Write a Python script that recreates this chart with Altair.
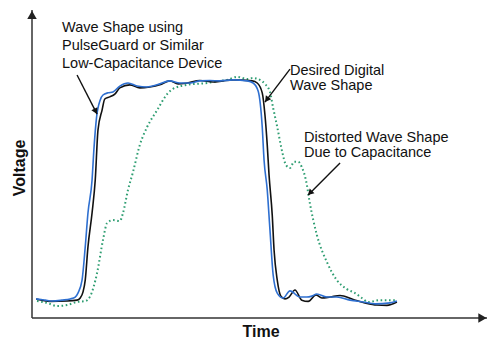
import altair as alt
import pandas as pd

# ---- data (time 0-100, voltage 0-100, arbitrary units) ----
blue_t = [0.9, 2.9, 4.4, 6.6, 8.4, 9.5, 10.1, 11.0, 11.7, 12.3, 13.2, 13.6, 14.2, 15.0, 15.6, 16.7, 17.8,
          19.3, 21.1, 23.1, 25.3, 27.5, 30.3, 32.5, 34.7, 36.9, 39.1, 41.3, 44.2, 47.3, 48.6, 49.7, 50.6,
          51.0, 51.7, 52.3, 53.0, 53.9, 55.2, 56.7, 58.9, 60.4, 61.5, 62.6, 64.8, 67.0, 69.9, 72.8, 75.4,
          78.7, 80.2]
blue_v = [6.2, 5.8, 5.5, 5.8, 6.2, 6.8, 8.1, 12.3, 23.1, 34.1, 44.8, 54.6, 65.3, 70.8, 72.4, 73.1, 73.4,
          75.3, 76.3, 75.3, 75.0, 75.7, 77.0, 76.3, 76.3, 77.0, 77.1, 77.0, 77.3, 77.0, 76.3, 73.7, 62.0,
          51.3, 41.6, 28.6, 14.0, 8.1, 6.5, 8.8, 6.8, 6.8, 7.1, 7.8, 6.8, 6.8, 5.8, 5.2, 4.6,
          4.9, 5.5]

black_t = [0.9, 4.0, 7.7, 9.9, 10.6, 11.2, 11.7, 12.3, 13.2, 13.9, 14.5, 15.4, 16.0, 17.1, 18.2, 19.3,
           21.5, 23.7, 25.9, 28.1, 30.3, 32.1, 34.1, 36.9, 39.8, 42.0, 44.2, 48.4, 49.5, 50.6, 51.2, 51.7,
           52.1, 52.8, 53.2, 53.9, 54.7, 55.6, 56.5, 57.8, 59.3, 60.7, 62.4, 63.7, 65.5, 67.7, 70.6, 73.2,
           75.8, 78.0, 80.2]
black_v = [6.2, 5.4, 5.5, 5.8, 6.5, 8.4, 12.3, 23.1, 34.1, 44.8, 61.0, 67.5, 71.1, 71.8, 72.7, 74.7,
           75.7, 74.7, 75.0, 75.7, 77.0, 76.0, 76.3, 77.1, 76.6, 77.0, 77.3, 77.0, 76.3, 73.1, 65.9, 56.2,
           46.4, 33.4, 22.1, 12.3, 7.1, 6.2, 6.8, 9.1, 5.8, 5.4, 7.5, 6.5, 6.8, 7.3, 6.0, 4.9,
           4.2, 4.1, 5.2]

green_t = [1.1, 3.3, 5.5, 7.7, 9.9, 11.7, 12.8, 14.3, 15.6, 16.5, 17.8, 19.3, 20.0, 21.1, 22.2, 23.7,
           25.3, 27.5, 29.7, 31.0, 34.1, 38.5, 41.3, 42.9, 45.1, 47.3, 48.6, 50.1, 51.2, 52.3, 53.0, 53.9,
           55.0, 55.8, 56.7, 57.6, 58.5, 59.3, 60.2, 61.1, 62.6, 64.8, 67.0, 69.2, 71.0, 72.5, 73.9, 76.5,
           79.3, 80.2]
green_v = [5.5, 4.9, 3.9, 4.2, 5.2, 5.5, 7.1, 14.6, 25.3, 30.8, 31.8, 31.5, 34.1, 41.6, 47.4, 56.2,
           62.0, 67.5, 72.7, 74.4, 75.7, 76.3, 77.0, 77.3, 78.3, 77.6, 77.9, 77.3, 76.0, 73.4, 68.2, 62.0,
           53.9, 49.7, 48.7, 50.7, 50.7, 49.0, 44.8, 37.0, 27.0, 18.2, 12.3, 9.4, 8.1, 6.5, 5.2, 5.8,
           5.8, 5.8]

# annotation arrows: start -> tip (data units), arrowhead angle
arrow_t0 = [9.9, 56.7, 67.7]
arrow_v0 = [78.9, 80.8, 50.3]
arrow_t1 = [14.3, 51.2, 60.7]
arrow_v1 = [66.2, 70.1, 39.9]
head_t = [14.0, 51.6, 61.1]
head_v = [67.1, 70.9, 40.6]
head_angle = [153, 217, 225]

labels = [
    ("Wave Shape using", 62, 32),
    ("PulseGuard or Similar", 62, 50),
    ("Low-Capacitance Device", 62, 68),
    ("Desired Digital", 290, 75),
    ("Wave Shape", 290, 90),
    ("Distorted Wave Shape", 304, 142),
    ("Due to Capacitance", 304, 157),
]

FONT = "Liberation Sans"
xs = alt.Scale(domain=[-7.033, 102.857], nice=False, zero=False)
ys = alt.Scale(domain=[-9.091, 103.247], nice=False, zero=False)

def series(t, v, name):
    return pd.DataFrame({"t": t, "v": v, "s": name})

X = alt.X("t:Q", scale=xs, axis=None)
Y = alt.Y("v:Q", scale=ys, axis=None)

green = alt.Chart(series(green_t, green_v, "Distorted")).mark_line(
    color="#2f9e72", strokeWidth=2, strokeDash=[1.6, 2.6], interpolate="monotone"
).encode(x=X, y=Y)
black = alt.Chart(series(black_t, black_v, "Desired")).mark_line(
    color="#111111", strokeWidth=1.6, interpolate="monotone"
).encode(x=X, y=Y)
blue = alt.Chart(series(blue_t, blue_v, "PulseGuard")).mark_line(
    color="#2e6fd0", strokeWidth=1.6, interpolate="monotone"
).encode(x=X, y=Y)

# axes with arrowheads
axes_df = pd.DataFrame({"t": [0, 0], "v": [0, 0], "t2": [100.0, 0], "v2": [0, 100.0]})
axes_lines = alt.Chart(axes_df).mark_rule(color="#333333", strokeWidth=1.5).encode(
    x=X, y=Y, x2="t2:Q", y2="v2:Q"
)
axhead_df = pd.DataFrame({"t": [99.0, 0.0], "v": [0.0, 98.4], "a": [90, 0]})
axes_heads = alt.Chart(axhead_df).mark_point(
    shape="triangle-up", filled=True, color="#222222", size=90, opacity=1
).encode(x=X, y=Y, angle=alt.Angle("a:Q", scale=None))

arr_df = pd.DataFrame({"t": arrow_t0, "v": arrow_v0, "t2": arrow_t1, "v2": arrow_v1})
arr_lines = alt.Chart(arr_df).mark_rule(color="#111111", strokeWidth=1.4).encode(
    x=X, y=Y, x2="t2:Q", y2="v2:Q"
)
head_df = pd.DataFrame({"t": head_t, "v": head_v, "a": head_angle})
arr_heads = alt.Chart(head_df).mark_point(
    shape="triangle-up", filled=True, color="#111111", size=45, opacity=1
).encode(x=X, y=Y, angle=alt.Angle("a:Q", scale=None))

lab_df = pd.DataFrame(labels, columns=["txt", "px", "py"])
texts = alt.Chart(lab_df).mark_text(
    align="left", baseline="alphabetic", font=FONT, fontSize=14.5, color="#111111"
).encode(x=alt.X("px:Q", scale=None), y=alt.Y("py:Q", scale=None), text="txt:N")

ylab = alt.Chart(pd.DataFrame({"txt": ["Voltage"]})).mark_text(
    angle=270, font=FONT, fontSize=16, fontWeight="bold", color="#111111",
    align="center", baseline="middle"
).encode(x=alt.value(20), y=alt.value(168), text="txt:N")
xlab = alt.Chart(pd.DataFrame({"txt": ["Time"]})).mark_text(
    font=FONT, fontSize=16, fontWeight="bold", color="#111111",
    align="center", baseline="alphabetic"
).encode(x=alt.value(261), y=alt.value(337), text="txt:N")

chart = alt.layer(
    axes_lines, axes_heads, green, black, blue, arr_lines, arr_heads, texts, ylab, xlab
).properties(
    width=500, height=346, padding=0, autosize=alt.AutoSizeParams(type="none"),
    background="white"
).configure_view(stroke=None)

chart.save("out.html", embed_options={"renderer": "svg", "actions": False})
